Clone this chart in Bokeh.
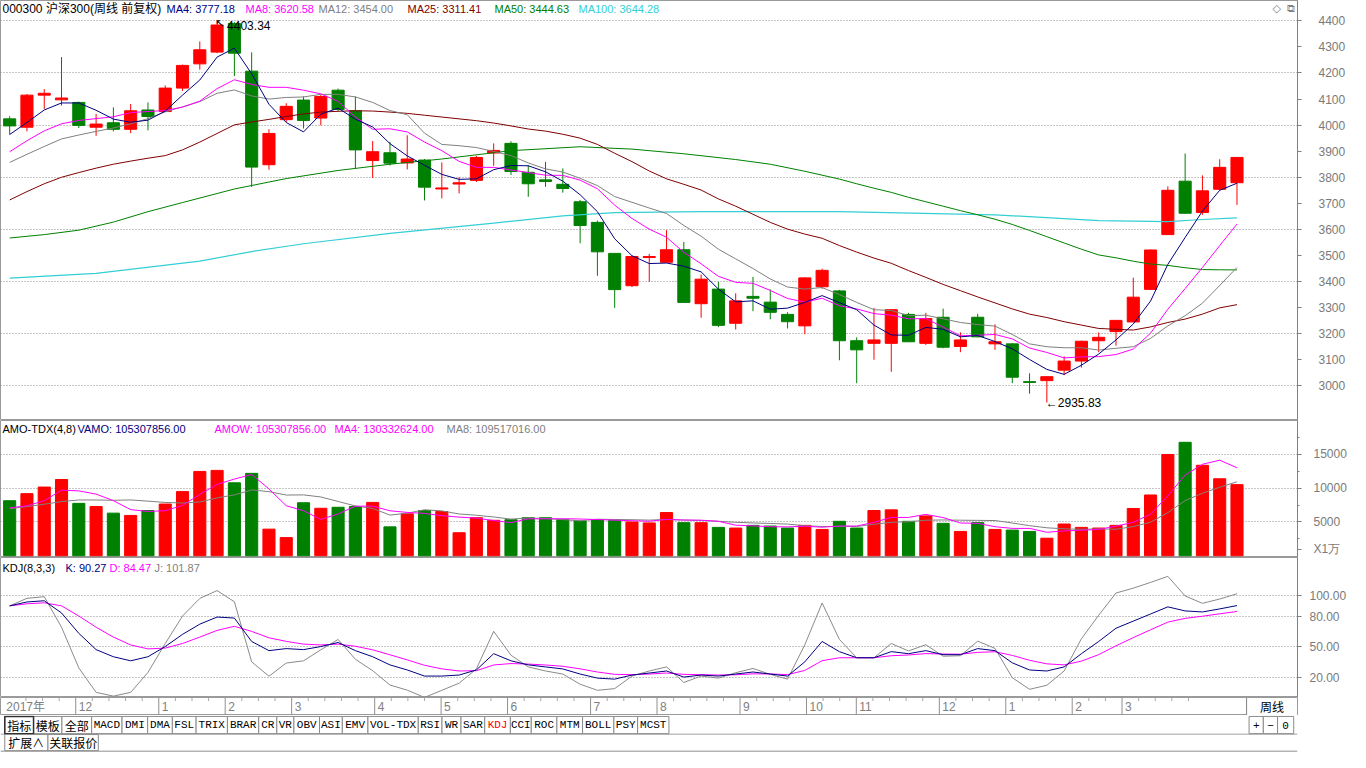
from bokeh.plotting import figure
from bokeh.layouts import column
from bokeh.models import Range1d, FixedTicker, Label, ColumnDataSource, NumeralTickFormatter
from bokeh.core.properties import value
from bokeh.embed import file_html
from bokeh.resources import INLINE

# ------------------------------------------------------------------ data
weeks = list(range(72))
opens = [4024, 3992, 4115, 4097, 4087, 3992, 4009, 3984, 4058, 4052,
         4142, 4235, 4280, 4390, 4207, 3848, 4021, 4096, 4027, 4134,
         4055, 3864, 3894, 3855, 3866, 3755, 3774, 3788, 3893, 3930,
         3819, 3790, 3773, 3706, 3627, 3508, 3384, 3492, 3474, 3522,
         3315, 3371, 3240, 3343, 3321, 3274, 3230, 3380, 3364, 3173,
         3163, 3163, 3274, 3163, 3263, 3151, 3263, 3161, 3161, 3016,
         3020, 3060, 3095, 3173, 3208, 3245, 3370, 3580, 3785, 3665,
         3754, 3779]
highs = [4034, 4119, 4138, 4261, 4090, 4043, 4068, 4081, 4087, 4152,
         4232, 4321, 4403.34, 4395, 4279, 3984, 4084, 4110, 4115, 4140,
         4110, 3939, 3936, 3961, 3870, 3857, 3800, 3882, 3930, 3938,
         3847, 3859, 3834, 3713, 3634, 3508, 3499, 3506, 3597, 3552,
         3427, 3399, 3355, 3418, 3370, 3282, 3416, 3449, 3368, 3186,
         3299, 3294, 3280, 3280, 3296, 3205, 3276, 3236, 3163, 3048,
         3035, 3113, 3173, 3205, 3251, 3415, 3523, 3765, 3891, 3807,
         3869, 3878]
lows = [3964, 3976, 4062, 4075, 3989, 3959, 3976, 3969, 3980, 4050,
        4131, 4213, 4276, 4188, 3763, 3829, 4012, 3987, 3999, 4052,
        3835, 3797, 3845, 3830, 3711, 3719, 3738, 3782, 3844, 3809,
        3725, 3763, 3741, 3547, 3422, 3299, 3379, 3399, 3472, 3320,
        3261, 3225, 3216, 3286, 3255, 3220, 3198, 3372, 3098, 3010,
        3100, 3054, 3169, 3157, 3144, 3129, 3186, 3138, 3010, 2970,
        2935.83, 3041, 3070, 3129, 3154, 3245, 3368, 3580, 3660, 3656,
        3750, 3694]
closes = [3997, 4115, 4122, 4104, 3999, 4004, 3984, 4055, 4033, 4142,
          4229, 4289, 4384, 4276, 3839, 3968, 4072, 4018, 4110, 4060,
          3905, 3898, 3854, 3870, 3762, 3759, 3779, 3876, 3903, 3822,
          3775, 3784, 3757, 3615, 3514, 3369, 3496, 3496, 3522, 3320,
          3409, 3232, 3326, 3336, 3282, 3246, 3414, 3443, 3173, 3138,
          3176, 3292, 3169, 3258, 3148, 3176, 3188, 3169, 3033, 3013,
          3035, 3095, 3171, 3186, 3251, 3340, 3521, 3750, 3662, 3748,
          3838, 3876]

ma4 = [3964, 4010, 4058, 4085, 4085, 4057, 4023, 4011, 4019, 4054,
       4115, 4173, 4261, 4295, 4197, 4080, 4010, 3974, 4042, 4065,
       4023, 3993, 3929, 3882, 3846, 3811, 3792, 3794, 3829, 3845,
       3844, 3821, 3785, 3733, 3668, 3564, 3499, 3469, 3471, 3459,
       3437, 3371, 3322, 3326, 3294, 3298, 3320, 3346, 3319, 3292,
       3233, 3195, 3194, 3224, 3217, 3188, 3193, 3170, 3142, 3101,
       3063, 3044, 3079, 3122, 3176, 3237, 3325, 3466, 3569, 3670,
       3750, 3777.18]
ma8 = [3898, 3940, 3978, 4005, 4018, 4025, 4032, 4048, 4052, 4056,
       4069, 4092, 4140, 4174, 4156, 4145, 4145, 4134, 4120, 4091,
       4031, 3984, 3986, 3974, 3935, 3902, 3861, 3838, 3838, 3828,
       3818, 3808, 3807, 3789, 3756, 3693, 3642, 3601, 3570, 3512,
       3468, 3420, 3397, 3393, 3366, 3335, 3321, 3336, 3307, 3295,
       3277, 3271, 3257, 3258, 3225, 3192, 3194, 3197, 3180, 3145,
       3128, 3107, 3111, 3112, 3120, 3141, 3202, 3294, 3373, 3454,
       3538, 3620.58]
ma12 = [3857, 3888, 3918, 3947, 3962, 3976, 3989, 4005, 4025, 4051,
        4070, 4090, 4122, 4135, 4112, 4100, 4106, 4108, 4118, 4118,
        4108, 4087, 4056, 4040, 3969, 3926, 3921, 3914, 3899, 3883,
        3855, 3832, 3820, 3796, 3768, 3726, 3704, 3682, 3661, 3615,
        3574, 3524, 3487, 3450, 3410, 3379, 3371, 3377, 3350, 3320,
        3292, 3289, 3269, 3271, 3257, 3243, 3235, 3229, 3197, 3161,
        3150, 3146, 3146, 3137, 3144, 3150, 3182, 3230, 3269, 3317,
        3385, 3454.00]
ma25 = [3713, 3745, 3775, 3800, 3818, 3835, 3850, 3862, 3873, 3883,
        3905, 3935, 3968, 4001, 4012, 4022, 4033, 4043, 4050, 4053,
        4055, 4054, 4050, 4045, 4038, 4031, 4024, 4017, 4008, 3997,
        3985, 3977, 3965, 3950, 3926, 3892, 3860, 3824, 3794, 3773,
        3751, 3717, 3689, 3658, 3627, 3601, 3582, 3566, 3538, 3513,
        3490, 3470, 3442, 3416, 3389, 3365, 3341, 3318, 3295, 3275,
        3262, 3246, 3233, 3220, 3217, 3214, 3226, 3243, 3256, 3275,
        3299, 3311.41]
ma50_x = [0, 2, 4, 6, 8, 10, 13, 16, 19, 22, 25, 29, 33, 36, 39, 42, 44, 46,
          48, 49, 50, 51, 52, 53, 54, 55, 56, 57, 58, 59, 60, 61, 62, 63, 64, 65,
          66, 67, 68, 69, 70, 71]
ma50_v = [3567, 3580, 3597, 3628, 3668, 3703, 3755, 3795, 3826, 3850, 3870, 3902,
          3917, 3908, 3890, 3868, 3850, 3823, 3793, 3775, 3758, 3742, 3723, 3706,
          3689, 3672, 3656, 3639, 3619, 3596, 3572, 3548, 3524, 3502, 3491, 3478,
          3467, 3462, 3453, 3446, 3445, 3444.63]
ma100_x = [0, 5, 11, 14, 17, 22, 28, 32, 35, 40, 48, 57, 63, 67, 69, 71]
ma100_v = [3413, 3431, 3478, 3515, 3545, 3585, 3624, 3652, 3664, 3668, 3668, 3656,
           3634, 3630, 3638, 3644.28]

# turnover (x 10^4)
amount = [8150, 9200, 10170, 11290, 7760, 7280, 6310, 5970, 6700, 7660,
          9500, 12490, 12640, 10800, 12200, 3940, 2690, 7850, 7030, 7180,
          7280, 7900, 4280, 6210, 6700, 6550, 3410, 5630, 5250, 5340,
          5630, 5630, 5340, 5150, 5340, 5250, 5000, 4860, 6400, 4900,
          4900, 4200, 4100, 4500, 4400, 4100, 4500, 3900, 5100, 4100,
          6700, 6800, 5100, 5900, 4800, 3600, 4900, 3900, 3800, 3600,
          2600, 4700, 4200, 4100, 4500, 7000, 9000, 15000, 16800, 13400,
          11400, 10530.7856]
amount_ma4 = [7090, 7400, 8150, 9703, 9605, 9125, 8160, 6830, 6565, 6660,
              7458, 9088, 10573, 11358, 12033, 9895, 7408, 6670, 5378, 6188,
              7335, 7348, 6660, 6418, 6273, 5935, 5718, 5573, 5210, 4908,
              5463, 5463, 5485, 5438, 5365, 5270, 5185, 5113, 5378, 5290,
              5265, 5100, 4525, 4425, 4300, 4275, 4375, 4225, 4400, 4400,
              4950, 5675, 5675, 6125, 5650, 4850, 4800, 4300, 4050, 4050,
              3475, 3675, 3775, 3900, 4375, 4950, 6150, 8875, 11950, 13550,
              14150, 13033.2624]
amount_ma8 = [6960, 7280, 7630, 8020, 8260, 8260, 8210, 8267, 8085, 7893,
              7809, 7959, 8569, 9009, 9746, 9492, 8991, 9014, 8706, 8042,
              7372, 7009, 6019, 6303, 6804, 6642, 6189, 5996, 5742, 5422,
              5591, 5518, 5348, 5173, 5414, 5367, 5335, 5276, 5372, 5280,
              5225, 5107, 4952, 4858, 4783, 4688, 4450, 4325, 4350, 4338,
              4663, 4950, 5038, 5263, 5300, 5263, 5238, 5213, 4850, 4450,
              4138, 3988, 3913, 3975, 3925, 4313, 4963, 6388, 8163, 9250,
              10150, 10951.7016]

kdj_k = [90, 93.8, 95, 83, 63, 47, 40, 36, 40, 50, 62, 72, 79, 78, 55, 46, 48, 47, 50, 54,
         46, 40, 32, 27, 21, 21, 22, 27, 43, 36, 32, 30, 28, 23, 19, 18, 22, 24, 26, 20,
         22, 21, 23, 25, 23, 21, 35, 55, 45, 39, 39, 45, 43, 46, 42, 42, 48, 46, 34, 27,
         26, 30, 43, 55, 68, 75, 82, 89, 85, 84, 87, 90.27]
kdj_d = [90, 92, 93, 90, 80, 69, 59.3, 51.6, 47.7, 48.5, 53, 59.3, 65.9, 69.9, 64.9, 58.6,
         55.1, 52.4, 51.6, 52.4, 50.3, 46.8, 41.9, 36.9, 31.6, 28.1, 26, 26.3, 31.9, 33.3,
         32.8, 31.9, 30.6, 28.1, 25, 22.7, 22.4, 23, 24, 22.7, 22.4, 22, 22.3, 23.2, 23.1,
         22.4, 26.6, 36.1, 39, 39, 39, 41, 41.7, 43.1, 42.7, 42.5, 44.3, 44.9, 41.3, 36.5,
         33, 32, 35.7, 42.1, 50.7, 58.8, 66.5, 74, 77.7, 79.8, 82.2, 84.47]
kdj_j = [90, 97.4, 99, 69, 29, 5, 1.3, 5, 24.6, 53, 80, 97.3, 105, 94, 35, 20.8, 33.8, 36,
         46.8, 57, 37.5, 26.3, 12.2, 7.2, 0, 7, 14, 28, 65, 41.5, 30, 26, 23, 13, 7, 8.7,
         21, 26, 30, 14.7, 21, 19, 24.3, 28.5, 22.7, 18, 51.8, 92.8, 57, 39, 39, 53, 45.7,
         51.8, 40.5, 41, 55.3, 48.2, 19.4, 8, 12, 26, 57.7, 80.8, 102.6, 107.4, 113, 119,
         99.7, 92.5, 96.7, 101.87]

price_ticks = [3000, 3100, 3200, 3300, 3400, 3500, 3600, 3700, 3800, 3900, 4000,
               4100, 4200, 4300, 4400]
price_grid = [3000, 3200, 3400, 3600, 3800, 4000, 4200, 4400]
amount_ticks = [5000, 10000, 15000]
amount_minor = [2500, 7500, 12500, 17500]
unit_tick = 950
unit_label = "X1万"
kdj_ticks = [20, 50, 80, 100]
month_idx = [4, 9, 13, 17, 22, 26, 30, 35, 39, 44, 48, 51, 56, 60, 64, 67]
month_labels = ["12", "1", "2", "3", "4", "5", "6", "7", "8", "9", "10", "11",
                "12", "1", "2", "3"]
year_label = "2017年"
period_label = "周线"

buttons = ["指标", "模板", "全部", "MACD", "DMI", "DMA", "FSL", "TRIX", "BRAR", "CR", "VR",
           "OBV", "ASI", "EMV", "VOL-TDX", "RSI", "WR", "SAR", "KDJ", "CCI", "ROC",
           "MTM", "BOLL", "PSY", "MCST"]

# ------------------------------------------------------------------ style
W = 1350
RB = 53
RED = "#ff0000"
GRN = "#008000"
NAVY = "#000080"
MAG = "#ff00ff"
GRAY = "#808080"
MAROON = "#800000"
DGRN = "#008000"
CYAN = "#33cfd6"
LAT = "Liberation Sans"
MIX = "Liberation Sans, Noto Sans CJK SC"
CJK = "Noto Sans CJK SC"
PX = 1297 / 75.03          # pixels per week in the frames

xr = Range1d(-0.53, 74.5)


def panel(h, yr):
    f = figure(width=W, height=h, x_range=xr, y_range=yr, title=None,
               x_axis_location=None, y_axis_location="right",
               toolbar_location=None, output_backend="svg",
               min_border_left=0, min_border_right=RB, min_border_top=0,
               min_border_bottom=0)
    f.xgrid.visible = False
    f.outline_line_color = "#9a9a9a"
    f.background_fill_color = "white"
    f.border_fill_color = "white"
    ax = f.yaxis[0]
    ax.axis_line_color = GRAY
    ax.major_tick_line_color = GRAY
    ax.minor_tick_line_color = GRAY
    ax.major_tick_out = 4
    ax.major_tick_in = 0
    ax.minor_tick_out = 2
    ax.minor_tick_in = 0
    ax.major_label_text_font = LAT
    ax.major_label_text_font_size = "12px"
    ax.major_label_text_color = "#7a7a7a"
    f.ygrid.grid_line_color = "#8c8c8c"
    f.ygrid.grid_line_dash = "1 2"
    return f


def head(f, items, y):
    for x, txt, col, size in items:
        f.add_layout(Label(x=x, y=y, x_units="screen", y_units="data", text=txt,
                           text_color=col, text_font=MIX, text_font_size=size,
                           text_baseline="middle"))


colors = [RED if c >= o else GRN for o, c in zip(opens, closes)]

# ------------------------------------------------------------------ price panel
p = panel(420, Range1d(2867, 4478))
p.yaxis.ticker = FixedTicker(ticks=price_ticks)
p.yaxis.major_label_standoff = 17
p.ygrid.ticker = FixedTicker(ticks=price_grid)

src = ColumnDataSource(dict(
    x=weeks, h=highs, l=lows,
    top=[max(o, c) for o, c in zip(opens, closes)],
    bot=[min(o, c) for o, c in zip(opens, closes)],
    color=colors))
p.segment(x0="x", y0="h", x1="x", y1="l", line_color="color", line_width=1, source=src)
p.vbar(x="x", width=0.7, top="top", bottom="bot", fill_color="color",
       line_color="color", line_width=1, source=src)

p.line(ma100_x, ma100_v, line_color=CYAN, line_width=1.2)
p.line(ma50_x, ma50_v, line_color=DGRN, line_width=1)
p.line(weeks, ma25, line_color=MAROON, line_width=1)
p.line(weeks, ma12, line_color=GRAY, line_width=1)
p.line(weeks, ma8, line_color=MAG, line_width=1)
p.line(weeks, ma4, line_color=NAVY, line_width=1)

k_hi = highs.index(max(highs))
k_lo = lows.index(min(lows))
p.text(x=[k_hi], y=[highs[k_hi]], text=["↖"], text_font=value("DejaVu Sans"),
       text_font_size="11px", text_align="left", text_baseline="top",
       x_offset=-2, y_offset=-3, text_color="black")
p.text(x=[k_hi], y=[highs[k_hi]], text=["%.2f" % highs[k_hi]], text_font=value(LAT),
       text_font_size="12px", text_align="left", text_baseline="middle",
       x_offset=10, y_offset=6, text_color="black")
p.text(x=[k_lo], y=[lows[k_lo]], text=["←%.2f" % lows[k_lo]], text_font=value(LAT),
       text_font_size="12px", text_align="left", text_baseline="middle",
       x_offset=-1, y_offset=0, text_color="black")

head(p, [(2, "000300 沪深300(周线 前复权)", "black", "12px"),
         (166, "MA4: %.2f" % ma4[-1], NAVY, "11px"),
         (245, "MA8: %.2f" % ma8[-1], MAG, "11px"),
         (318, "MA12: %.2f" % ma12[-1], GRAY, "11px"),
         (407, "MA25: %.2f" % ma25[-1], MAROON, "11px"),
         (494, "MA50: %.2f" % ma50_v[-1], DGRN, "11px"),
         (578, "MA100: %.2f" % ma100_v[-1], CYAN, "11px")], 4447)
p.add_layout(Label(x=1272, y=4447, x_units="screen", y_units="data", text="◇",
                   text_color=GRAY, text_font="DejaVu Sans", text_font_size="11px",
                   text_baseline="middle"))
p.add_layout(Label(x=1286, y=4447, x_units="screen", y_units="data", text="⧉",
                   text_color=GRAY, text_font="DejaVu Sans", text_font_size="11px",
                   text_baseline="middle"))

# ------------------------------------------------------------------ turnover panel
v = panel(137, Range1d(-260, 20030))
v.yaxis.ticker = FixedTicker(ticks=[unit_tick] + amount_ticks, minor_ticks=amount_minor)
v.yaxis.major_label_overrides = {unit_tick: unit_label}
v.yaxis.major_label_standoff = 12
v.ygrid.ticker = FixedTicker(ticks=amount_ticks)
v.vbar(x=weeks, width=0.7, top=amount, bottom=0, fill_color=colors, line_color=colors)
v.line(weeks, amount_ma8, line_color=GRAY, line_width=1)
v.line(weeks, amount_ma4, line_color=MAG, line_width=1)
head(v, [(2, "AMO-TDX(4,8)", "black", "11px"),
         (77, "VAMO: %.2f" % (amount[-1] * 1e4), NAVY, "11px"),
         (214, "AMOW: %.2f" % (amount[-1] * 1e4), MAG, "11px"),
         (334, "MA4: %.2f" % (amount_ma4[-1] * 1e4), MAG, "11px"),
         (446, "MA8: %.2f" % (amount_ma8[-1] * 1e4), GRAY, "11px")], 18700)

# ------------------------------------------------------------------ KDJ panel
k = panel(140, Range1d(-0.05, 137.5))
k.yaxis.ticker = FixedTicker(ticks=kdj_ticks)
k.yaxis.formatter = NumeralTickFormatter(format="0.00")
k.yaxis.major_label_standoff = 8
k.ygrid.ticker = FixedTicker(ticks=kdj_ticks)
k.line(weeks, kdj_j, line_color="#8a8a8a", line_width=1)
k.line(weeks, kdj_d, line_color=MAG, line_width=1)
k.line(weeks, kdj_k, line_color=NAVY, line_width=1)
head(k, [(2, "KDJ(8,3,3)", "black", "11px"),
         (65, "K: %.2f" % kdj_k[-1], NAVY, "11px"),
         (109, "D: %.2f" % kdj_d[-1], MAG, "11px"),
         (154, "J: %.2f" % kdj_j[-1], GRAY, "11px")], 127.5)

# ------------------------------------------------------------------ date strip
x_end = -0.53 + W / PX
xs = figure(width=W, height=18, x_range=Range1d(-0.53, x_end), y_range=Range1d(0, 18),
            title=None, x_axis_location=None, y_axis_location=None,
            toolbar_location=None, output_backend="svg", min_border=0)
xs.grid.visible = False
xs.outline_line_color = "#9a9a9a"
minor_idx = [i for i in weeks if i not in month_idx and i > 0]
xs.segment(x0=minor_idx, y0=18, x1=minor_idx, y1=14.5, line_color="#a8a8a8", line_width=1)
xs.segment(x0=month_idx, y0=0, x1=month_idx, y1=18, line_color="#909090", line_width=1)
xs.text(x=month_idx, y=9, text=month_labels, x_offset=3, text_font=value(LAT),
        text_font_size="12px", text_baseline="middle", text_align="left",
        text_color="#808080")
xs.text(x=[0], y=[9], text=[year_label], x_offset=-3, text_font=value(MIX),
        text_font_size="12px", text_baseline="middle", text_align="left",
        text_color="#808080")
xs.quad(left=[74.5], right=[x_end], top=18, bottom=0, fill_color="white",
        line_color="#808080", line_width=1)
xs.text(x=[(74.5 + x_end) / 2], y=[9], text=[period_label], text_font=value(CJK),
        text_font_size="12px", text_baseline="middle", text_align="center",
        text_color="black")

# ------------------------------------------------------------------ button bar
edges = [4.5, 34.8, 64.7, 96, 128, 155, 181, 206, 239, 272, 291, 309, 336, 360,
         387, 440, 465, 485, 510, 537, 559, 586, 613, 646, 671, 704]
ui = figure(width=W, height=37, x_range=Range1d(0, 1366), y_range=Range1d(40, 0),
            title=None, x_axis_location=None, y_axis_location=None,
            toolbar_location=None, output_backend="svg", min_border=0)
ui.grid.visible = False
ui.outline_line_color = None
ui.segment(x0=[0], y0=[20.2], x1=[1366], y1=[20.2], line_color="#a0a0a0", line_width=1)
ui.segment(x0=[0], y0=[39], x1=[1366], y1=[39], line_color="#b4b4b4", line_width=2)
ui.quad(left=edges[:-1], right=edges[1:], top=1, bottom=19.6, fill_color="white",
        line_color="#8a8a8a", line_width=1)
ui.quad(left=[4.5], right=[34.8], top=1, bottom=19.6, fill_color=None,
        line_color="#303030", line_width=1.5)
mids = [(a + b) / 2 for a, b in zip(edges[:-1], edges[1:])]
cjk_b = [i for i, t in enumerate(buttons) if ord(t[0]) > 255]
lat_b = [i for i, t in enumerate(buttons) if ord(t[0]) <= 255]
ui.text(x=[mids[i] for i in cjk_b], y=10.5, text=[buttons[i] for i in cjk_b],
        text_font=value(CJK), text_font_size="12px", text_align="center",
        text_baseline="middle", text_color="black")
ui.text(x=[mids[i] for i in lat_b], y=10.5, text=[buttons[i] for i in lat_b],
        text_font=value("Liberation Mono"), text_font_size="11px",
        text_align="center", text_baseline="middle",
        text_color=[RED if buttons[i] == "KDJ" else "black" for i in lat_b])
small_edges = [1315, 1330, 1345, 1362]
small = ["+", "−", "0"]
ui.quad(left=small_edges[:-1], right=small_edges[1:], top=1, bottom=19.6,
        fill_color="white", line_color="#8a8a8a")
ui.text(x=[(a + b) / 2 for a, b in zip(small_edges[:-1], small_edges[1:])], y=10.5,
        text=small, text_font=value("Liberation Mono"), text_font_size="11px",
        text_align="center", text_baseline="middle", text_color="black")
ext_edges = [4.5, 50, 103]
ext = ["扩展∧", "关联报价"]
ui.quad(left=ext_edges[:-1], right=ext_edges[1:], top=20.6, bottom=38,
        fill_color="white", line_color="#8a8a8a")
ui.text(x=[(a + b) / 2 for a, b in zip(ext_edges[:-1], ext_edges[1:])], y=29.5,
        text=ext, text_font=value(CJK), text_font_size="12px", text_align="center",
        text_baseline="middle", text_color="black")

layout = column(p, v, k, xs, ui, spacing=0)
open("out.html", "w").write(file_html(layout, INLINE, title="000300"))
